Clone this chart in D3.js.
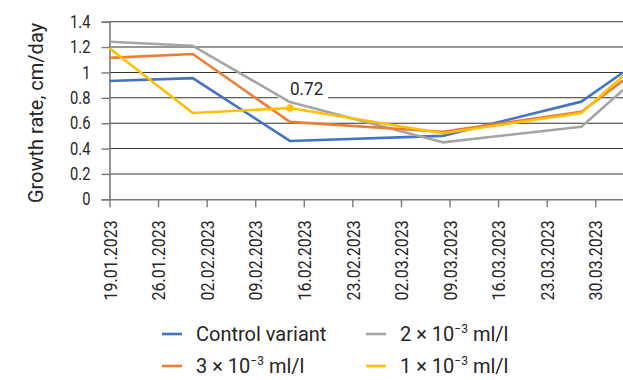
<!DOCTYPE html>
<html><head><meta charset="utf-8">
<script src="https://cdn.jsdelivr.net/npm/d3@7"></script>
<style>
body{margin:0;background:#fff}
text{font-family:Roboto,"Noto Sans",sans-serif;fill:#262626}
</style>
</head><body>
<svg id="c" width="623" height="380"></svg>
<script>
const pointDates = ["19.01.2023","31.01.2023","14.02.2023","08.03.2023","28.03.2023","03.04.2023"];
const tickLabels = ["19.01.2023","26.01.2023","02.02.2023","09.02.2023","16.02.2023","23.02.2023","02.03.2023","09.03.2023","16.03.2023","23.03.2023","30.03.2023"];
const yTicks = [0,0.2,0.4,0.6,0.8,1,1.2,1.4];
const controlVariant = [0.933,0.955,0.46,0.50,0.77,1.00];
const dose2 = [1.242,1.21,0.767,0.449,0.572,0.862];
const dose3 = [1.115,1.145,0.61,0.532,0.69,0.936];
const dose1 = [1.19,0.68,0.72,0.52,0.68,0.973];
const seriesNames = [["Control variant"],["2 × 10","−3"," ml/l"],["3 × 10","−3"," ml/l"],["1 × 10","−3"," ml/l"]];
const seriesColors = ["#4472C4","#A5A5A5","#ED7D31","#FFC000"];
const seriesValues = [controlVariant,dose2,dose3,dose1];

const parse = d3.timeParse("%d.%m.%Y");
const svg = d3.select("#c");
const L=109.5, R=623, T=21.7, B=199.3;
const SX = 0.84;
const x = d3.scaleTime().domain([parse(pointDates[0]), parse(pointDates[pointDates.length-1])]).range([L,R]);
const y = d3.scaleLinear().domain([0,1.4]).range([B,T]);

// gridlines
svg.append("g").selectAll("line").data(yTicks.filter(v=>v>0)).join("line")
  .attr("x1",L).attr("x2",R).attr("y1",d=>y(d)).attr("y2",d=>y(d))
  .attr("stroke","#333").attr("stroke-width",1.1);

// label background (hides gridline)
const lblVal = dose1[2], lblDate = parse(pointDates[2]);
svg.append("rect").attr("x",x(lblDate)-12).attr("y",y(lblVal)-30).attr("width",50).attr("height",24).attr("fill","#fff");

// y axis
const yAxis = svg.append("g").attr("transform",`translate(${L},0)`)
  .call(d3.axisLeft(y).tickValues(yTicks).tickSize(8).tickFormat(d=>String(+d.toFixed(1))));
yAxis.attr("font-family",null);
yAxis.select(".domain").attr("stroke","#777").attr("stroke-width",1.6);
yAxis.selectAll(".tick line").attr("stroke","#777").attr("stroke-width",1.4);
yAxis.selectAll("text").attr("font-size",17.5).attr("fill","#262626")
  .attr("x",0).attr("transform",`translate(-19,0) scale(${SX},1)`);

// x axis
const xAxis = svg.append("g").attr("transform",`translate(0,${B})`)
  .call(d3.axisBottom(x).tickValues(tickLabels.map(parse)).tickSize(8).tickSizeOuter(0).tickFormat(d3.timeFormat("%d.%m.%Y")));
xAxis.attr("font-family",null);
xAxis.select(".domain").attr("stroke","#777").attr("stroke-width",1.6);
xAxis.selectAll(".tick line").attr("stroke","#777").attr("stroke-width",1.4);
xAxis.selectAll("text").attr("font-size",19).attr("fill","#262626")
  .attr("x",0).attr("y",0).attr("dy","0.35em").attr("text-anchor","end")
  .attr("transform",`translate(0,21) rotate(-90) scale(${SX},1)`);

// y title
svg.append("text").attr("transform",`translate(36,113) rotate(-90)`).attr("text-anchor","middle")
  .attr("dy","0.35em").attr("font-size",20).text("Growth rate, cm/day");

// lines
const line = d3.line().x((d,i)=>x(parse(pointDates[i]))).y(d=>y(d));
svg.append("defs").append("clipPath").attr("id","clip").append("rect").attr("x",0).attr("y",0).attr("width",R).attr("height",380);
const lg = svg.append("g").attr("clip-path","url(#clip)");
seriesValues.forEach((vals,i)=>{
  lg.append("path").attr("d",line(vals)).attr("fill","none").attr("stroke",seriesColors[i])
    .attr("stroke-width",2.6).attr("stroke-linejoin","round");
});
// marker + label
svg.append("circle").attr("cx",x(lblDate)).attr("cy",y(lblVal)).attr("r",3.8).attr("fill",seriesColors[3]);
svg.append("text").attr("transform",`translate(${x(lblDate)},${y(lblVal)-13}) scale(0.9,1)`).attr("font-size",19).text(d3.format(".2f")(lblVal));

// legend
const legPos = [[162,334],[366,334],[162,366],[366,366]];
seriesNames.forEach((parts,i)=>{
  const [lx,ly]=legPos[i];
  svg.append("line").attr("x1",lx).attr("x2",lx+20).attr("y1",ly).attr("y2",ly)
    .attr("stroke",seriesColors[i]).attr("stroke-width",2.6);
  const t = svg.append("text").attr("x",lx+34).attr("y",ly+7).attr("font-size",20);
  t.append("tspan").text(parts[0]);
  if(parts.length>1){
    t.append("tspan").attr("font-size",12).attr("dy",-8).text(parts[1]);
    t.append("tspan").attr("dy",8).text(parts[2]);
  }
});
</script>
</body></html>
